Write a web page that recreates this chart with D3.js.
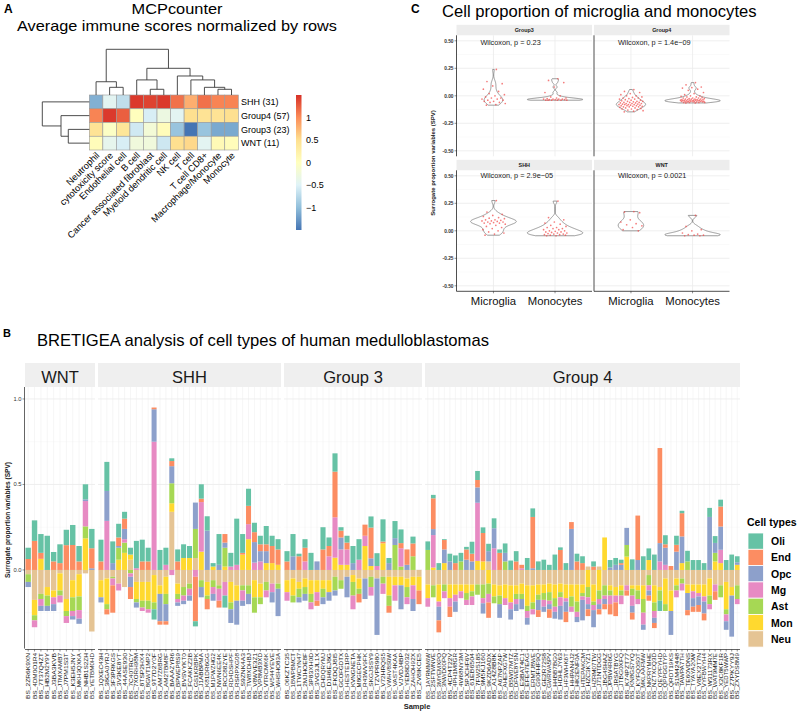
<!DOCTYPE html>
<html><head><meta charset="utf-8">
<script src="https://cdn.jsdelivr.net/npm/d3@7/dist/d3.min.js"></script>
<style>html,body{margin:0;padding:0;background:#fff;}svg{display:block;}</style>
</head><body>
<svg id="fig" width="800" height="712"></svg>
<script>
// ================= DATA =================
// ---- Panel A: MCPcounter heatmap ----
const heatRows = ["SHH (31)", "Group4 (57)", "Group3 (23)", "WNT (11)"];
const heatCols = ["Neutrophil", "cytotoxicity score", "Endothelial cell", "B cell",
  "Cancer associated fibroblast", "Myeloid dendritic cell", "NK cell", "T cell",
  "T cell CD8+", "Macrophage/Monocyte", "Monocyte"];
const heatSHH    = [-1.1, -0.45, -0.7, 1.45, 1.4, 1.45, 1.15, 0.8, 1.15, 1.05, 1.05];
const heatGroup4 = [1.05, 1.45, 1.25, 0.02, -0.55, -0.3, -0.45, 0.5, 0.45, 0.45, 0.5];
const heatGroup3 = [0.45, -0.05, 0.4, -0.6, -0.2, 0.05, -0.95, -1.5, -0.95, -1.15, -1.15];
const heatWNT    = [0.05, -0.4, -0.55, -0.25, -0.25, -0.62, 0.5, 0.55, -0.45, 0.1, 0.05];
const heatLegendTicks = [1, 0.5, 0, -0.5, -1];
// dendrograms: [child a, child b, height]; leaves 0..n-1, merged nodes numbered n, n+1, ...
const colMerges = [[1,2,0.168],[0,11,0.29],[4,5,0.125],[3,13,0.33],[9,10,0.125],
  [8,15,0.168],[7,16,0.33],[6,17,0.416],[14,18,0.584],[12,19,1.0]];
const rowMerges = [[2,3,0.447],[1,4,0.602],[0,5,1.0]];

// ---- Panel B: BRETIGEA stacked bars ----
const subgroups = ["WNT", "SHH", "Group 3", "Group 4"];
const wntIds = ["BS_2ZR6K9XN","BS_4DM0O1R4","BS_7T37Q4ZT","BS_HB2M2Y9Y","BS_J3BA3KVB","BS_JTMXAMB7",
  "BS_J7PM1S3T","BS_K3EH5JNY","BS_MKH3QXKA","BS_NHB1S2ZH","BS_YETBM0HD"];
const shhIds = ["BS_1QXEC43H","BS_38GA0YRJ","BS_3F3PRKGS","BS_3V3KE8YT","BS_44ASE930","BS_7C40TRCY",
  "BS_7XORH98M","BS_8TSP2HX4","BS_8GWT1MP2","BS_9T7D2Y0F","BS_AM7Z6BRG","BS_AM2TBM8F","BS_BAAAZYR6",
  "BS_BPWEP8S9","BS_BVSVYKT0","BS_FCAKKZ2B","BS_GS1KRBPK","BS_J1ABBPMA","BS_K81DR6GG","BS_M1PWZHG2",
  "BS_NWN6EE4K","BS_RCC88ZYE","BS_RD4DSHPF","BS_RSRPXG08","BS_S9ZNK4A3","BS_TW8XDHBJ","BS_V8WVE3Z1",
  "BS_VP8MB3XD","BS_VTRCMK6K","BS_W544YEVE","BS_WHSHO83A"];
const g3Ids = ["BS_06KZTC35","BS_1BWPBMCT","BS_1TWCYN47","BS_2MJHOE8F","BS_3P83XH0D","BS_3VG3JL1X",
  "BS_CHDQRYMJ","BS_D1H6EJ8G","BS_FKDQJ8I5","BS_GCOFGDTX","BS_HESTE1RP","BS_KVNGNETA","BS_M8GECPHK",
  "BS_R43WV9FK","BS_SKGJSSY9","BS_TZVPR980","BS_V72HRQS5","BS_VWHV8S0W","BS_VAST4KAA","BS_VJVDJ4BP",
  "BS_YEB8D032","BS_ZAHOH92X","BS_ZV8IKCE5"];
const g4Ids = ["BS_1AYRMM6W","BS_2SFTWNVE","BS_3MYEMXPO","BS_3NWD00PQ","BS_4CP4T22V","BS_4PH1M8GR",
  "BS_4W68NY3M","BS_5PJCHF6V","BS_61EB6504","BS_7FW25185","BS_9M5KJ160","BS_9KZD6ADX","BS_A14Z8B8K",
  "BS_A67NPZAP","BS_AHEFXG7W","BS_B5W07MTZ","BS_DFWE8YSN","BS_E3BAT4C1","BS_EFE47EAG","BS_ERMTJ8WE",
  "BS_G90FHF9Q","BS_GE2R72S8","BS_GWRWA5PV","BS_H4BB7BG0","BS_HDHLJY63","BS_HF3WHK6T","BS_HHPAN4J2",
  "BS_HK2ENF0A","BS_HTEPAKCM","BS_HZC3KYZ1","BS_HZRM07TW","BS_J71NTDGG","BS_JBG4SHAZ","BS_JPBW4R6G",
  "BS_JRSATBYG","BS_JTBG0XFQ","BS_K74PZT77","BS_KN8GS7YQ","BS_KYFQ0S0T","BS_MKLAAFMW","BS_NKPRYMHE",
  "BS_NZTXCQ3D","BS_QEYPFYHD","BS_QPPGGTYP","BS_QRDT19KS","BS_S1M42448","BS_TAWPA7TH","BS_TE60VDNS",
  "BS_TYAYA20W","BS_V8EX2T7N","BS_VYFBWYH4","BS_W31173RX","BS_WAT9MM7E","BS_X2C8KF1R","BS_YEDT5WWP",
  "BS_Z7PKYY9J","BS_ZXYDS8M9"];
const cellTypes = ["Oli", "End", "Opc", "Mg", "Ast", "Mon", "Neu"];
// SPV per sample (order: WNT 11, SHH 31, Group 3 23, Group 4 57)
const spvOli = [
  .066,.12,.11,.2,.055,.11,.09,.117,.09,.088,.113,
  .127,.17,.127,.08,.04,.04,.16,.127,.08,-.06,.117,.1,.016,.07,.08,.07,-.03,.084,.084,.02,.18,-.07,.08,.27,.11,.1,.055,.05,.107,.06,.06,
  .06,.13,.015,.05,.1,0,.13,.05,.107,.02,.04,.1,.12,0,.065,.075,.13,.03,.1,.08,0,.04,0,
  .05,.02,.04,.005,.045,.045,.05,.015,.07,.053,.033,.043,.058,.02,.055,.055,.06,0,.07,.05,.05,.06,.03,.09,.015,.04,0,.045,.04,0,.03,0,0,.043,.04,.02,0,.062,0,.08,.068,.09,-.06,.053,0,.053,.014,.062,.058,.058,.04,.053,.04,.04,.058,.09,.035];
const spvEnd = [
  .064,.17,.035,0,.05,.04,.145,.146,.05,0,.117,
  .05,-.03,-.16,.05,.06,-.07,0,.05,.05,.01,-.02,-.02,.03,.05,0,0,-.26,.02,-.06,0,-.04,.05,0,0,.01,.107,.058,.04,.04,.1,.09,
  .05,0,.08,.08,0,-.03,.12,.06,.267,.04,.04,0,-.05,.065,.18,0,.01,-.04,0,.03,.09,.075,-.08,
  0,.18,-.07,.055,-.06,.04,0,.06,.045,.043,.166,-.09,0,.1,0,0,.05,.02,0,.3,-.04,0,-.05,0,.117,-.06,.04,.05,.04,-.04,.02,-.03,-.03,-.06,-.08,.01,-.03,-.04,.26,0,-.03,-.03,.556,.02,.023,.04,.136,-.03,-.03,-.04,-.04,0,-.05,.117,0,0,0];
const spvOpc = [
  -.03,0,-.03,-.03,-.04,0,0,-.02,-.03,.01,.01,
  -.03,.175,.04,.01,.06,-.06,-.03,0,0,.19,-.16,-.1,.1,-.02,-.02,-.03,.154,-.06,.23,-.04,.03,.03,-.08,-.14,-.03,-.06,.12,.06,.07,-.06,-.16,
  0,.08,-.03,-.04,0,.05,-.04,-.05,-.03,.07,-.12,.04,0,-.12,.045,-.33,0,.04,.04,-.14,.03,-.07,0,
  0,.035,-.08,.08,.05,-.06,0,.06,.05,.09,-.06,.06,.117,-.08,.05,-.06,-.04,-.06,-.04,.01,-.06,-.03,-.03,-.04,-.08,-.06,.24,-.03,-.12,-.03,-.1,-.03,-.03,.015,.03,.03,.1,-.04,.058,-.03,-.03,-.03,.107,.1,-.14,.107,.156,-.1,-.05,-.05,-.07,.31,.058,.136,-.05,-.24,.015];
const spvMg = [
  0,-.04,-.04,0,-.04,-.04,-.04,-.03,-.05,.148,0,
  0,.287,-.04,-.04,.02,-.02,.01,-.02,-.02,.75,0,.03,-.03,-.02,-.03,-.04,-.04,.29,0,-.04,-.07,-.08,.02,.03,-.06,.088,.043,.05,-.04,-.05,0,
  -.05,0,0,.05,-.04,-.05,0,.08,.236,.09,.09,-.08,.06,.06,-.05,.023,-.06,0,-.09,.107,-.04,-.08,0,
  -.05,.19,-.03,-.04,-.05,-.04,-.04,-.03,-.05,.34,-.03,-.05,.127,0,-.04,-.04,-.03,.01,-.04,-.03,0,-.04,-.02,-.03,-.05,-.02,-.03,-.03,-.02,-.04,-.03,-.03,-.02,-.05,-.04,-.05,-.03,-.06,-.03,-.07,-.03,-.04,.05,.03,0,-.04,-.04,0,-.04,-.02,-.03,-.03,-.04,.078,-.04,0,-.03];
const spvAst = [
  -.045,-.03,-.03,-.06,0,-.03,-.03,-.08,-.08,.07,0,
  0,-.03,-.01,.07,.06,-.02,-.02,-.04,-.05,-.04,0,-.06,.117,-.03,-.05,-.03,.17,-.04,-.02,-.04,-.02,.11,-.04,0,-.03,-.05,-.09,-.04,-.05,0,-.03,
  0,-.04,-.05,-.04,-.05,0,-.05,0,-.08,-.05,0,-.08,-.03,0,-.06,0,-.04,-.06,.146,.02,-.06,.08,0,
  .117,-.07,0,-.04,0,0,.05,-.04,-.03,-.06,-.08,-.06,-.04,-.05,.05,0,-.03,-.03,-.03,-.04,-.03,-.04,-.05,-.05,-.03,0,-.06,-.06,-.02,-.06,-.02,-.05,-.06,-.03,0,-.03,.068,-.04,-.05,-.08,-.06,-.05,-.06,-.04,0,-.03,-.03,.05,0,0,0,-.05,.05,-.07,-.03,0,-.08];
const spvMon = [
  0,-.09,.065,-.05,-.04,-.1,-.07,-.1,-.13,.185,0,
  -.1,-.15,0,.06,.1,.03,-.1,-.11,-.11,-.16,-.05,-.1,.05,-.06,.07,.07,0,.107,-.08,.02,0,.02,-.12,-.09,.09,.18,-.1,-.08,.04,.04,.03,
  -.07,-.1,-.04,-.05,-.08,-.07,-.05,-.07,.072,.03,.03,-.04,-.06,.14,.023,0,.156,-.11,-.05,-.05,-.05,-.05,-.08,
  -.08,.014,-.1,.04,-.08,-.06,-.04,-.05,-.04,.053,.05,-.08,-.07,-.06,-.08,-.1,-.05,-.06,-.12,-.1,-.06,-.05,-.05,-.08,-.05,-.08,-.07,-.1,-.05,-.1,-.1,-.12,.19,-.03,-.05,-.03,.078,-.02,-.03,-.08,.058,-.1,-.02,-.15,-.12,-.04,.04,-.05,-.04,-.05,-.07,-.1,.05,.04,-.16,-.05,.03];
const spvNeu = [
  -.025,-.175,-.14,-.1,-.12,-.02,-.17,-.06,-.025,-.02,-.36,
  -.06,-.05,-.04,-.08,-.1,.06,-.07,-.07,-.07,-.03,-.09,-.04,.34,-.08,-.1,-.08,.07,-.06,-.07,-.06,-.09,-.07,-.07,-.09,-.09,-.09,-.06,-.08,-.07,-.08,-.08,
  -.06,-.05,-.07,-.05,-.06,-.06,-.06,-.06,-.04,-.06,-.04,-.03,-.05,-.05,-.04,-.05,-.04,-.04,-.04,-.04,-.05,-.04,-.04,
  -.085,-.09,-.085,-.085,-.085,-.085,-.085,-.085,-.085,-.085,-.085,.05,-.085,-.09,-.085,-.09,-.09,-.08,-.09,-.09,-.085,-.085,-.08,-.085,-.08,-.085,-.085,-.085,-.085,.02,-.085,.02,-.09,-.09,-.1,-.09,-.09,-.09,-.09,-.09,-.03,-.09,-.1,-.05,-.12,-.05,-.05,-.085,-.085,-.085,-.085,-.05,-.085,-.09,-.07,-.1,-.09];
const spvTicks = [0, 0.5, 1.0];

// ---- Panel C: microglia / monocyte SPV per subgroup ----
const cCats = ["Microglia", "Monocytes"];
const cG3Mg = [0.24,0.13,0.11,0.09,0.06,0.04,0.02,0.01,0,-0.01,-0.02,-0.02,-0.03,-0.03,-0.04,-0.04,-0.05,-0.05,-0.06,-0.06,-0.07,-0.08,-0.085];
const cG3Mo = [0.155,0.14,0.12,0.08,0.03,0,-0.01,-0.02,-0.02,-0.025,-0.03,-0.03,-0.03,-0.03,-0.035,-0.035,-0.035,-0.04,-0.04,-0.04,-0.04,-0.04,-0.04];
const cG4Mg = [0.057,0.04,0.03,0.02,0.01,0,0,-0.01,-0.015,-0.02,-0.02,-0.025,-0.03,-0.03,-0.035,-0.04,-0.04,-0.045,-0.05,-0.05,-0.05,-0.055,-0.06,-0.06,-0.06,-0.065,-0.065,-0.07,-0.07,-0.07,-0.075,-0.075,-0.08,-0.08,-0.08,-0.08,-0.085,-0.085,-0.09,-0.09,-0.09,-0.095,-0.095,-0.1,-0.1,-0.1,-0.105,-0.11,-0.11,-0.115,-0.12,-0.12,-0.125,-0.13,-0.135,-0.14,-0.146];
const cG4Mo = [0.12,0.1,0.08,0.075,0.07,0.06,0.05,0.03,0.02,0.01,0,0,-0.005,-0.01,-0.01,-0.015,-0.02,-0.02,-0.02,-0.025,-0.025,-0.03,-0.03,-0.03,-0.03,-0.035,-0.035,-0.035,-0.035,-0.04,-0.04,-0.04,-0.04,-0.04,-0.04,-0.045,-0.045,-0.045,-0.045,-0.045,-0.05,-0.05,-0.05,-0.05,-0.05,-0.05,-0.05,-0.055,-0.055,-0.055,-0.055,-0.06,-0.06,-0.06,-0.06,-0.065,-0.065];
const cShhMg = [0.275,0.17,0.15,0.14,0.13,0.12,0.115,0.11,0.1,0.1,0.095,0.09,0.09,0.085,0.08,0.08,0.075,0.07,0.07,0.065,0.06,0.05,0.04,0.03,0.02,0.01,0,-0.01,-0.02,-0.03,-0.04];
const cShhMo = [0.27,0.12,0.1,0.08,0.07,0.06,0.05,0.04,0.03,0.03,0.02,0.02,0.01,0.01,0,0,-0.005,-0.01,-0.01,-0.015,-0.02,-0.02,-0.025,-0.03,-0.03,-0.035,-0.035,-0.04,-0.04,-0.045,-0.045];
const cWntMg = [0.175,0.17,0.165,0.1,0.08,0.065,0.055,0.045,0.03,0.01,0];
const cWntMo = [0.14,0.04,0.01,0,-0.02,-0.03,-0.035,-0.04,-0.04,-0.045,-0.045];
const cPvals = ["Wilcoxon, p = 0.23", "Wilcoxon, p = 1.4e\u221209", "Wilcoxon, p = 2.9e\u221205", "Wilcoxon, p = 0.0021"];
const cTicks = [0.5, 0.25, 0, -0.25, -0.5];

// ================= DRAWING =================
const svg = d3.select("#fig").attr("font-family", "'Liberation Sans', Arial, Helvetica, sans-serif");
function txt(g, x, y, s, o) {
  const t = g.append("text").attr("x", x).attr("y", y).text(s);
  if (o) for (const k in o) t.attr(k, o[k]);
  return t;
}
svg.append("rect").attr("width", 800).attr("height", 712).attr("fill", "#fff");

// ---------- Panel A ----------
const A = svg.append("g");
txt(A, 4, 13, "A", {"font-size": 12, "font-weight": "bold"});
txt(A, 177, 14, "MCPcounter", {"font-size": 14.5, "text-anchor": "middle", textLength: 91, lengthAdjust: "spacingAndGlyphs"});
txt(A, 17, 31, "Average immune scores normalized by rows", {"font-size": 14.5, textLength: 320, lengthAdjust: "spacingAndGlyphs"});

const heatData = [heatSHH, heatGroup4, heatGroup3, heatWNT];
const hx = d3.scaleBand().domain(heatCols).range([89.3, 238.3]);
const hy = d3.scaleBand().domain(heatRows).range([95, 150]);
const heatColor = d3.scaleLinear().domain([-1.5, -1, -0.5, 0, 0.5, 1, 1.5])
  .range(["#4575B4", "#91BFDB", "#E0F3F8", "#FFFFBF", "#FEE090", "#FC8D59", "#D73027"]);
heatRows.forEach((r, i) => heatCols.forEach((c, j) => {
  A.append("rect").attr("x", hx(c)).attr("y", hy(r)).attr("width", hx.bandwidth()).attr("height", hy.bandwidth())
    .attr("fill", heatColor(heatData[i][j])).attr("stroke", "#9a9a9a").attr("stroke-width", 0.6);
}));
heatRows.forEach(r => txt(A, 241, hy(r) + hy.bandwidth() / 2 + 3.2, r, {"font-size": 9}));
heatCols.forEach(c => {
  const x = hx(c) + hx.bandwidth() / 2 + 4, y = 156;
  txt(A, x, y, c, {"font-size": 9.3, "text-anchor": "end", transform: `rotate(-45,${x},${y})`});
});
function dendro(merges, leafPos) {
  const pos = leafPos.slice(), hts = leafPos.map(() => 0), segs = [];
  merges.forEach(([a, b, h]) => { segs.push([pos[a], hts[a], pos[b], hts[b], h]); pos.push((pos[a] + pos[b]) / 2); hts.push(h); });
  return segs;
}
const colDen = d3.scaleLinear().domain([0, 1]).range([95, 49.3]);
dendro(colMerges, heatCols.map(c => hx(c) + hx.bandwidth() / 2)).forEach(([xa, ha, xb, hb, h]) => {
  A.append("path").attr("d", `M${xa},${colDen(ha)}V${colDen(h)}H${xb}V${colDen(hb)}`)
    .attr("fill", "none").attr("stroke", "#3a3a3a").attr("stroke-width", 0.9);
});
const rowDen = d3.scaleLinear().domain([0, 1]).range([89.3, 42.3]);
dendro(rowMerges, heatRows.map(r => hy(r) + hy.bandwidth() / 2)).forEach(([ya, ha, yb, hb, h]) => {
  A.append("path").attr("d", `M${rowDen(ha)},${ya}H${rowDen(h)}V${yb}H${rowDen(hb)}`)
    .attr("fill", "none").attr("stroke", "#3a3a3a").attr("stroke-width", 0.9);
});
const legY = d3.scaleLinear().domain([-1.5, 1.5]).range([230, 95]);
const grad = svg.append("defs").append("linearGradient").attr("id", "hg").attr("x1", 0).attr("y1", 1).attr("x2", 0).attr("y2", 0);
d3.range(7).forEach(i => grad.append("stop").attr("offset", i / 6).attr("stop-color", heatColor(-1.5 + i * 0.5)));
A.append("rect").attr("x", 296).attr("y", legY(1.5)).attr("width", 5.5).attr("height", legY(-1.5) - legY(1.5)).attr("fill", "url(#hg)");
heatLegendTicks.forEach(v => txt(A, 306, legY(v) + 3.2, v < 0 ? "\u2212" + Math.abs(v) : String(v), {"font-size": 9}));

// ---------- Panel B ----------
const B = svg.append("g");
txt(B, 3, 337, "B", {"font-size": 11, "font-weight": "bold"});
txt(B, 37, 346, "BRETIGEA analysis of cell types of human medulloblastomas", {"font-size": 16.6});
const yB = d3.scaleLinear().domain([-0.46, 1.07]).range([648.6, 387]);
const facetsB = [
  {label: subgroups[0], ids: wntIds, x0: 25, x1: 95},
  {label: subgroups[1], ids: shhIds, x0: 98, x1: 281},
  {label: subgroups[2], ids: g3Ids, x0: 284, x1: 422},
  {label: subgroups[3], ids: g4Ids, x0: 425, x1: 740}];
const cellColors = {Oli: "#66C2A5", End: "#FC8D62", Opc: "#8DA0CB", Mg: "#E78AC3", Ast: "#A6D854", Mon: "#FFD92F", Neu: "#E5C494"};
const spv = {Oli: spvOli, End: spvEnd, Opc: spvOpc, Mg: spvMg, Ast: spvAst, Mon: spvMon, Neu: spvNeu};
const allIds = wntIds.concat(shhIds, g3Ids, g4Ids);
const stackKeys = cellTypes.slice().reverse(); // Neu nearest zero, Oli outermost
const rowsB = allIds.map((id, i) => { const o = {id}; cellTypes.forEach(k => o[k] = spv[k][i]); return o; });
const stacked = d3.stack().keys(stackKeys).offset(d3.stackOffsetDiverging)(rowsB);

facetsB.forEach(f => {
  const xb = d3.scaleBand().domain(f.ids).range([f.x0, f.x1]).paddingInner(0.15).paddingOuter(0.075);
  const g = B.append("g");
  g.append("rect").attr("x", f.x0).attr("y", 363).attr("width", f.x1 - f.x0).attr("height", 24).attr("fill", "#efefef");
  txt(g, (f.x0 + f.x1) / 2, 383.3, f.label, {"font-size": 16.5, "text-anchor": "middle", fill: "#1a1a1a"});
  [-0.25, 0.25, 0.75].forEach(v => g.append("line").attr("x1", f.x0).attr("x2", f.x1).attr("y1", yB(v)).attr("y2", yB(v)).attr("stroke", "#f4f4f4").attr("stroke-width", 0.5));
  [0, 0.5, 1].forEach(v => g.append("line").attr("x1", f.x0).attr("x2", f.x1).attr("y1", yB(v)).attr("y2", yB(v)).attr("stroke", "#ebebeb").attr("stroke-width", 0.8));
  f.ids.forEach(id => {
    const cx = xb(id) + xb.bandwidth() / 2;
    g.append("line").attr("x1", cx).attr("x2", cx).attr("y1", 387).attr("y2", 648.6).attr("stroke", "#ededed").attr("stroke-width", 0.5);
  });
  stacked.forEach(series => {
    series.forEach(d => {
      if (!f.ids.includes(d.data.id)) return;
      const h = Math.abs(yB(d[0]) - yB(d[1]));
      if (h <= 0) return;
      g.append("rect").attr("x", xb(d.data.id)).attr("width", xb.bandwidth())
        .attr("y", Math.min(yB(d[0]), yB(d[1]))).attr("height", h)
        .attr("fill", cellColors[series.key]);
    });
  });
  g.append("line").attr("x1", f.x0).attr("x2", f.x1).attr("y1", 649.5).attr("y2", 649.5).attr("stroke", "#222").attr("stroke-width", 0.7);
  f.ids.forEach(id => {
    const cx = xb(id) + xb.bandwidth() / 2;
    g.append("line").attr("x1", cx).attr("x2", cx).attr("y1", 649.5).attr("y2", 651.5).attr("stroke", "#222").attr("stroke-width", 0.5);
    txt(g, cx + 2.1, 653, id, {"font-size": 6, "text-anchor": "end", fill: "#222", textLength: 46, lengthAdjust: "spacingAndGlyphs", transform: `rotate(-90,${cx + 2.1},653)`});
  });
});
B.append("line").attr("x1", 24.5).attr("x2", 24.5).attr("y1", 387).attr("y2", 648.6).attr("stroke", "#222").attr("stroke-width", 0.7);
spvTicks.forEach(v => {
  B.append("line").attr("x1", 22.5).attr("x2", 24.5).attr("y1", yB(v)).attr("y2", yB(v)).attr("stroke", "#222").attr("stroke-width", 0.5);
  txt(B, 21.5, yB(v) + 2, v.toFixed(1), {"font-size": 5.8, "text-anchor": "end", fill: "#333"});
});
txt(B, 9.5, 520, "Surrogate proportion variables (SPV)", {"font-size": 6.6, "font-weight": "bold", "text-anchor": "middle", fill: "#222", transform: "rotate(-90,9.5,520)"});
txt(B, 417, 708.5, "Sample", {"font-size": 7.5, "font-weight": "bold", "text-anchor": "middle", fill: "#222"});
txt(B, 747, 525.5, "Cell types", {"font-size": 10.5, "font-weight": "bold"});
cellTypes.forEach((k, i) => {
  const y = 533 + i * 16.3;
  B.append("rect").attr("x", 748).attr("y", y).attr("width", 15.5).attr("height", 16.3).attr("fill", cellColors[k]).attr("stroke", "#fff").attr("stroke-width", 0.8);
  txt(B, 771, y + 12, k, {"font-size": 10.5, "font-weight": "bold"});
});

// ---------- Panel C ----------
const C = svg.append("g");
txt(C, 411, 13, "C", {"font-size": 12, "font-weight": "bold"});
txt(C, 442, 16.7, "Cell proportion of microglia and monocytes", {"font-size": 16.6});
const facetsC = [
  {name: "Group3", mg: cG3Mg, mo: cG3Mo, p: cPvals[0], x0: 456.5, y0: 35.3, col: 0, row: 0, py: 9.2},
  {name: "Group4", mg: cG4Mg, mo: cG4Mo, p: cPvals[1], x0: 594, y0: 35.3, col: 1, row: 0, py: 9.2},
  {name: "SHH", mg: cShhMg, mo: cShhMo, p: cPvals[2], x0: 456.5, y0: 170.3, col: 0, row: 1, py: 7.2},
  {name: "WNT", mg: cWntMg, mo: cWntMo, p: cPvals[3], x0: 594, y0: 170.3, col: 1, row: 1, py: 7.2}];
const cW = 135.5, cH = 121;
function bwNrd0(x) {
  const s = x.slice().sort(d3.ascending);
  const sd = d3.deviation(s);
  const iqr = d3.quantile(s, 0.75) - d3.quantile(s, 0.25);
  let lo = Math.min(sd, iqr / 1.34);
  if (!(lo > 0)) lo = sd || 1;
  return 0.9 * lo * Math.pow(s.length, -0.2);
}
function kde(x) {
  const bw = bwNrd0(x), lo = d3.min(x), hi = d3.max(x), n = 200;
  return d3.range(n).map(i => {
    const t = lo + (hi - lo) * i / (n - 1);
    let s = 0;
    for (const v of x) { const z = (t - v) / bw; s += Math.exp(-0.5 * z * z); }
    return [t, s / (x.length * bw * Math.sqrt(2 * Math.PI))];
  });
}
facetsC.forEach(f => {
  const g = C.append("g");
  const xs = d3.scalePoint().domain(cCats).range([f.x0, f.x0 + cW]).padding(0.6);
  const ys = d3.scaleLinear().domain([-0.55, 0.55]).range([f.y0 + cH, f.y0]);
  g.append("rect").attr("x", f.x0).attr("y", f.y0 - 10.5).attr("width", cW).attr("height", 10.5).attr("fill", "#ededed");
  txt(g, f.x0 + cW / 2, f.y0 - 3.3, f.name, {"font-size": 5.4, "font-weight": "bold", "text-anchor": "middle", fill: "#222"});
  [-0.375, -0.125, 0.125, 0.375].forEach(v => g.append("line").attr("x1", f.x0).attr("x2", f.x0 + cW).attr("y1", ys(v)).attr("y2", ys(v)).attr("stroke", "#f5f5f5").attr("stroke-width", 0.5));
  cTicks.forEach(v => g.append("line").attr("x1", f.x0).attr("x2", f.x0 + cW).attr("y1", ys(v)).attr("y2", ys(v)).attr("stroke", "#ebebeb").attr("stroke-width", 0.8));
  cCats.forEach(c => g.append("line").attr("x1", xs(c)).attr("x2", xs(c)).attr("y1", f.y0).attr("y2", f.y0 + cH).attr("stroke", "#ebebeb").attr("stroke-width", 0.8));
  const dens = [kde(f.mg), kde(f.mo)];
  const maxD = d3.max(dens, d => d3.max(d, p => p[1]));
  const half = 0.45 * xs.step();
  dens.forEach((d, i) => {
    const cx = xs(cCats[i]);
    const area = d3.area().x0(p => cx - p[1] / maxD * half).x1(p => cx + p[1] / maxD * half).y(p => ys(p[0]));
    g.append("path").attr("d", area(d)).attr("fill", "#fff").attr("stroke", "#595959").attr("stroke-width", 0.6);
  });
  [f.mg, f.mo].forEach((vals, i) => {
    const cx = xs(cCats[i]);
    vals.forEach((v, k) => {
      const off = (((k + 1) * 0.6180339887) % 1 - 0.5) * 2 * 0.2 * xs.step();
      g.append("circle").attr("cx", cx + off).attr("cy", ys(v)).attr("r", 0.85).attr("fill", "#f24f4f").attr("fill-opacity", 0.75);
    });
  });
  txt(g, xs(cCats[0]) - 13, f.y0 + f.py, f.p, {"font-size": 7.3, fill: "#222"});
  g.append("line").attr("x1", f.x0).attr("x2", f.x0).attr("y1", f.y0).attr("y2", f.y0 + cH).attr("stroke", "#222").attr("stroke-width", 0.8);
  if (f.col === 0) {
    cTicks.forEach(v => {
      g.append("line").attr("x1", f.x0 - 2).attr("x2", f.x0).attr("y1", ys(v)).attr("y2", ys(v)).attr("stroke", "#222").attr("stroke-width", 0.5);
      txt(g, f.x0 - 3, ys(v) + 1.7, v.toFixed(2), {"font-size": 4.8, "font-weight": "bold", "text-anchor": "end", fill: "#333"});
    });
  }
  if (f.row === 1) {
    g.append("line").attr("x1", f.x0).attr("x2", f.x0 + cW).attr("y1", f.y0 + cH).attr("y2", f.y0 + cH).attr("stroke", "#222").attr("stroke-width", 0.8);
    cCats.forEach(c => {
      g.append("line").attr("x1", xs(c)).attr("x2", xs(c)).attr("y1", f.y0 + cH).attr("y2", f.y0 + cH + 2).attr("stroke", "#222").attr("stroke-width", 0.5);
      txt(g, xs(c), f.y0 + cH + 14, c, {"font-size": 11.3, "text-anchor": "middle", fill: "#111"});
    });
  }
});
txt(C, 434.5, 163, "Surrogate proportion variables (SPV)", {"font-size": 6, "font-weight": "bold", "text-anchor": "middle", fill: "#222", transform: "rotate(-90,434.5,163)"});
</script>
</body></html>
